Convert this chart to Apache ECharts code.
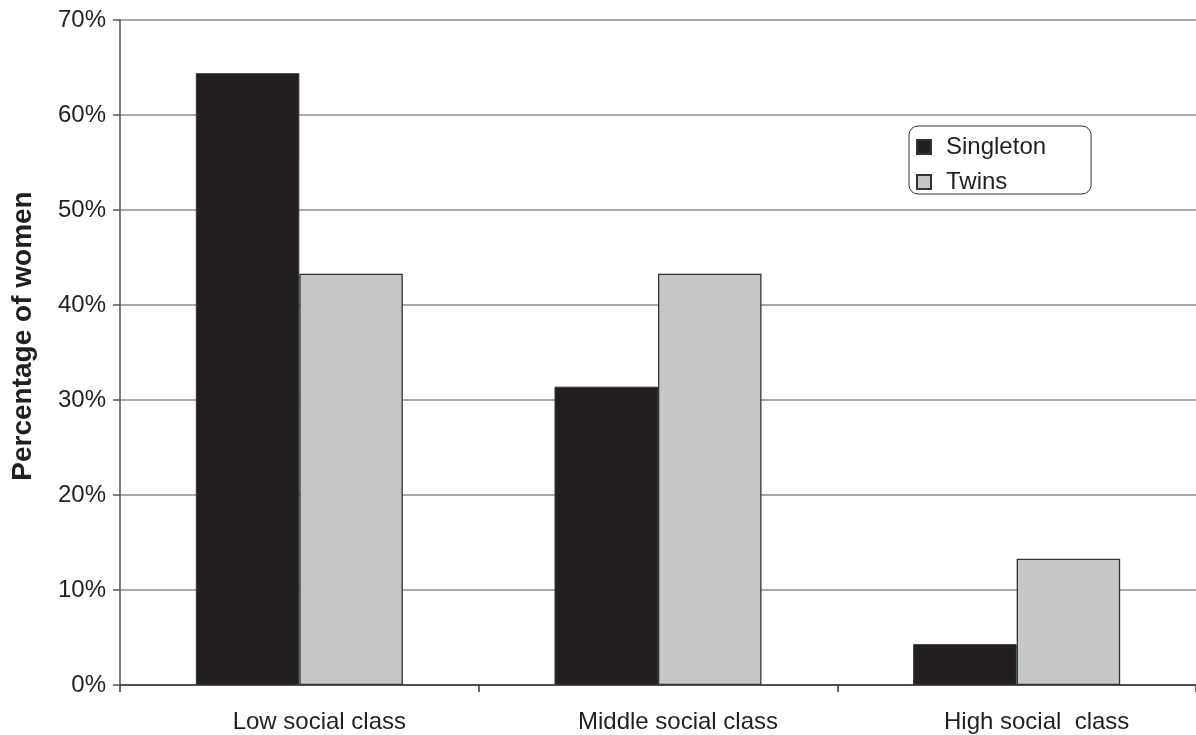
<!DOCTYPE html>
<html>
<head>
<meta charset="utf-8">
<script src="https://cdn.jsdelivr.net/npm/echarts@6/dist/echarts.min.js"></script>
<style>
html,body{margin:0;padding:0;background:#fff;}
#chart{width:1196px;height:735px;}
</style>
</head>
<body>
<div id="chart"></div>
<script>
var categories = ['Low social class', 'Middle social class', 'High social  class'];
var singleton = [64.4, 31.4, 4.3];
var twins = [43.3, 43.3, 13.3];
var yTicks = [0, 10, 20, 30, 40, 50, 60, 70];
var yTitle = 'Percentage of women';

var FONT = '"Liberation Sans", Arial, sans-serif';
var chart = echarts.init(document.getElementById('chart'), null, {renderer: 'canvas'});
chart.setOption({
  animation: false,
  backgroundColor: '#ffffff',
  grid: {left: 120, top: 20, width: 1081, height: 665, containLabel: false},
  legend: {
    orient: 'vertical',
    left: 909, top: 126,
    padding: [9, 45, 0, 7],
    itemWidth: 14, itemHeight: 14,
    itemGap: 11,
    icon: 'rect',
    borderColor: '#333', borderWidth: 1, borderRadius: 9,
    textStyle: {fontFamily: FONT, fontSize: 24, color: '#231f20', padding: [0, 0, 0, 10]},
    data: ['Singleton', 'Twins']
  },
  xAxis: {
    type: 'category',
    data: categories,
    axisLine: {lineStyle: {color: '#333', width: 1.5}},
    axisTick: {show: true, length: 7, lineStyle: {color: '#333', width: 1.5}},
    axisLabel: {fontFamily: FONT, fontSize: 24, color: '#231f20', margin: 25, padding: [0, 0, 0, 40]}
  },
  yAxis: {
    type: 'value',
    min: yTicks[0], max: yTicks[yTicks.length - 1], interval: 10,
    axisLine: {show: true, lineStyle: {color: '#555', width: 1.5}},
    axisTick: {show: true, length: 7, lineStyle: {color: '#555', width: 1.5}},
    axisLabel: {fontFamily: FONT, fontSize: 24, color: '#231f20', margin: 14, formatter: '{value}%'},
    splitLine: {show: true, lineStyle: {color: '#8c8c8c', width: 1.5}}
  },
  graphic: [{
    type: 'text',
    x: 23, y: 336,
    rotation: Math.PI / 2,
    style: {
      text: yTitle,
      fontFamily: FONT, fontSize: 28, fontWeight: 'bold', fill: '#231f20',
      align: 'center', verticalAlign: 'middle'
    }
  }],
  series: [
    {
      name: 'Singleton', type: 'bar', data: singleton,
      barWidth: 103.5, barGap: '0%',
      itemStyle: {color: '#231f20', borderColor: '#333', borderWidth: 1}
    },
    {
      name: 'Twins', type: 'bar', data: twins,
      barWidth: 103.5,
      itemStyle: {color: '#c6c7c9', borderColor: '#333', borderWidth: 1.3}
    }
  ]
});
</script>
</body>
</html>
